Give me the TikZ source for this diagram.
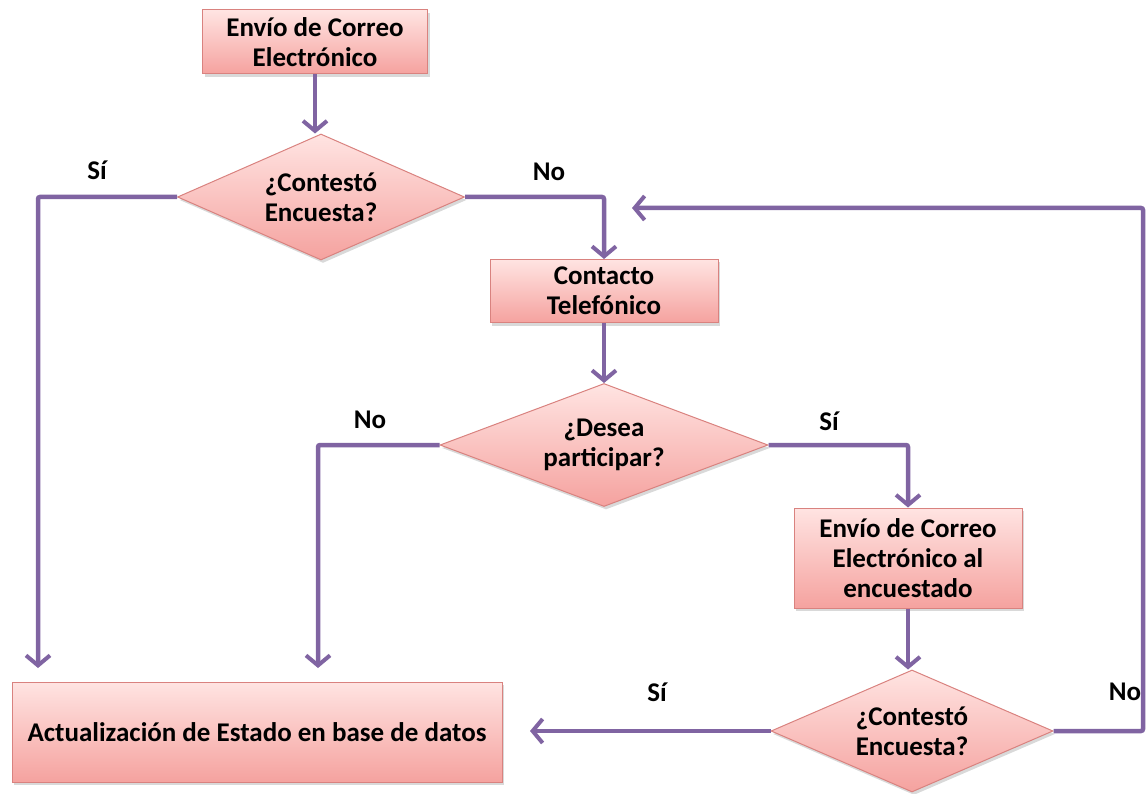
\documentclass[tikz,border=0pt]{standalone}
\usepackage{fontspec}
\setmainfont{Carlito}
\usetikzlibrary{shapes.geometric,arrows.meta,shadows}
\definecolor{morado}{HTML}{8064A2}
\definecolor{borde}{HTML}{D9827F}
\definecolor{rosaclaro}{HTML}{FFE4E2}
\definecolor{rosa}{HTML}{F5A29F}

\begin{document}
\begin{tikzpicture}[x=1pt,y=-1pt,
	caja/.style={draw=borde,line width=1pt,top color=rosaclaro,bottom color=rosa,
		align=center,inner sep=0pt,font=\bfseries\fontsize{27}{30}\selectfont,
		drop shadow={opacity=0.3,shadow xshift=2pt,shadow yshift=-3pt}},
	rombo/.style={caja,diamond,aspect=2.3},
	flecha/.style={draw=morado,line width=4.5pt,rounded corners=2pt,
		-{Straight Barb[length=10pt,width=24pt,line width=4pt]}},
	etiqueta/.style={font=\bfseries\fontsize{27}{30}\selectfont,inner sep=0pt}]
	\useasboundingbox (0,0) rectangle (1148,794);
	\node[caja,minimum width=225pt,minimum height=64pt](c1) at (315,42)
		{Envío de Correo\\Electrónico};
	\node[rombo,minimum width=287pt,minimum height=126pt](r1) at (321,197)
		{¿Contestó\\Encuesta?};
	\node[caja,minimum width=228pt,minimum height=63pt](c2) at (604,291)
		{Contacto\\Telefónico};
	\node[rombo,minimum width=328pt,minimum height=123pt](r2) at (604,445)
		{¿Desea\\participar?};
	\node[caja,minimum width=228pt,minimum height=100pt](c3) at (908,558)
		{Envío de Correo\\Electrónico al\\encuestado};
	\node[rombo,minimum width=282pt,minimum height=122pt](r3) at (912,731)
		{¿Contestó\\Encuesta?};
	\node[caja,minimum width=490pt,minimum height=100pt](c4) at (257,732)
		{Actualización de Estado en base de datos};

	\coordinate (p1) at (38,668);
	\coordinate (p2) at (318,668);
	\coordinate (p3) at (530,731);
	\coordinate (q1) at (1143,208);
	\coordinate (p4) at (632,208);

	\draw[flecha] (c1.south) -- (c1.south |- r1.north);
	\draw[flecha] (r1.west) -| (p1);
	\draw[flecha] (r1.east) -| (c2.north);
	\draw[flecha] (c2) -- (r2);
	\draw[flecha] (r2.west) -| (p2);
	\draw[flecha] (r2.east) -| (c3.north);
	\draw[flecha] (c3.south) -- (c3.south |- r3.north);
	\draw[flecha] (r3.west) -- (p3);
	\draw[flecha] (r3.east) -| (q1) -- (p4);

	\node[etiqueta](s1) at (97,170) {Sí};
	\node[etiqueta](n1) at (549,172) {No};
	\node[etiqueta](n2) at (370,420) {No};
	\node[etiqueta](s2) at (829,421) {Sí};
	\node[etiqueta](s3) at (657,692) {Sí};
	\node[etiqueta](n3) at (1125,692) {No};
\end{tikzpicture}
\end{document}
